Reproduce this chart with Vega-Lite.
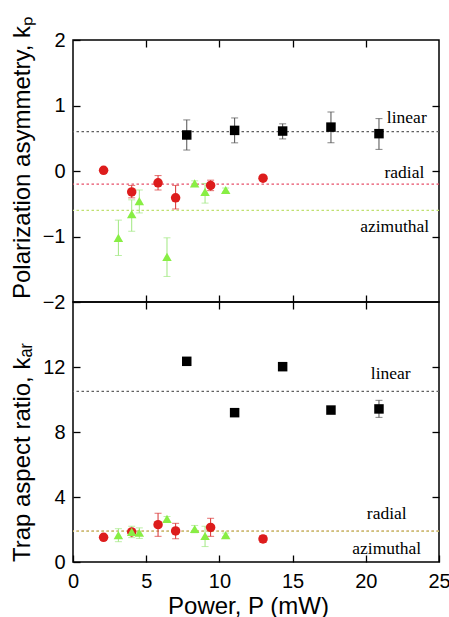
{
  "$schema": "https://vega.github.io/schema/vega-lite/v6.json",
  "background": "white",
  "padding": {"left": 9, "top": 14, "right": 5, "bottom": 0},
  "spacing": 0,
  "bounds": "flush",
  "config": {
    "view": {"stroke": "black", "strokeWidth": 1.5},
    "axis": {
      "domain": false, "grid": false, "tickColor": "black", "tickSize": -7, "tickWidth": 1.3, "minExtent": 0,
      "labelFont": "Liberation Sans", "labelFontSize": 20, "labelColor": "black", "labelFlush": false, "labelOverlap": false,
      "titleFont": "Liberation Sans", "titleFontSize": 24, "titleFontWeight": "normal", "titleColor": "black"
    }
  },
  "datasets": {
    "A": [
      {"series": "linear", "x": 7.77, "y": 0.55, "lo": 0.32, "hi": 0.78},
      {"series": "linear", "x": 11.04, "y": 0.62, "lo": 0.43, "hi": 0.81},
      {"series": "linear", "x": 14.32, "y": 0.61, "lo": 0.49, "hi": 0.72},
      {"series": "linear", "x": 17.62, "y": 0.67, "lo": 0.43, "hi": 0.90},
      {"series": "linear", "x": 20.9, "y": 0.57, "lo": 0.33, "hi": 0.80},
      {"series": "radial", "x": 2.09, "y": 0.01, "lo": 0.01, "hi": 0.01},
      {"series": "radial", "x": 4.01, "y": -0.32, "lo": -0.41, "hi": -0.22},
      {"series": "radial", "x": 5.81, "y": -0.18, "lo": -0.29, "hi": -0.07},
      {"series": "radial", "x": 7.01, "y": -0.41, "lo": -0.58, "hi": -0.22},
      {"series": "radial", "x": 9.4, "y": -0.22, "lo": -0.30, "hi": -0.14},
      {"series": "radial", "x": 12.98, "y": -0.11, "lo": -0.11, "hi": -0.11},
      {"series": "azimuthal", "x": 3.1, "y": -1.02, "lo": -1.29, "hi": -0.75},
      {"series": "azimuthal", "x": 4.01, "y": -0.66, "lo": -0.92, "hi": -0.44},
      {"series": "azimuthal", "x": 4.53, "y": -0.46, "lo": -0.64, "hi": -0.29},
      {"series": "azimuthal", "x": 6.42, "y": -1.31, "lo": -1.61, "hi": -1.02},
      {"series": "azimuthal", "x": 8.31, "y": -0.19, "lo": -0.23, "hi": -0.15},
      {"series": "azimuthal", "x": 9.02, "y": -0.32, "lo": -0.49, "hi": -0.19},
      {"series": "azimuthal", "x": 10.43, "y": -0.29, "lo": -0.32, "hi": -0.26}
    ],
    "B": [
      {"series": "linear", "x": 7.77, "y": 12.35, "lo": 12.15, "hi": 12.55},
      {"series": "linear", "x": 11.04, "y": 9.19, "lo": 9.0, "hi": 9.38},
      {"series": "linear", "x": 14.32, "y": 12.02, "lo": 11.9, "hi": 12.12},
      {"series": "linear", "x": 17.62, "y": 9.35, "lo": 9.15, "hi": 9.55},
      {"series": "linear", "x": 20.9, "y": 9.42, "lo": 8.9, "hi": 9.95},
      {"series": "radial", "x": 2.09, "y": 1.52, "lo": 1.45, "hi": 1.6},
      {"series": "radial", "x": 4.01, "y": 1.85, "lo": 1.75, "hi": 1.95},
      {"series": "radial", "x": 5.81, "y": 2.3, "lo": 1.58, "hi": 3.0},
      {"series": "radial", "x": 7.01, "y": 1.91, "lo": 1.43, "hi": 2.38},
      {"series": "radial", "x": 9.4, "y": 2.13, "lo": 1.58, "hi": 2.69},
      {"series": "radial", "x": 12.98, "y": 1.42, "lo": 1.2, "hi": 1.62},
      {"series": "azimuthal", "x": 3.1, "y": 1.66, "lo": 1.25, "hi": 2.05},
      {"series": "azimuthal", "x": 4.01, "y": 1.85, "lo": 1.5, "hi": 2.2},
      {"series": "azimuthal", "x": 4.53, "y": 1.8, "lo": 1.45, "hi": 2.1},
      {"series": "azimuthal", "x": 6.42, "y": 2.65, "lo": 2.5, "hi": 2.8},
      {"series": "azimuthal", "x": 8.31, "y": 2.03, "lo": 1.8, "hi": 2.25},
      {"series": "azimuthal", "x": 9.02, "y": 1.6, "lo": 0.95, "hi": 2.2},
      {"series": "azimuthal", "x": 10.43, "y": 1.66, "lo": 1.55, "hi": 1.78}
    ],
    "refA": [
      {"series": "linear", "y": 0.6},
      {"series": "radial", "y": -0.2},
      {"series": "azimuthal", "y": -0.6}
    ],
    "refB": [
      {"series": "linear", "y": 10.5},
      {"series": "radial", "y": 1.9},
      {"series": "azimuthal", "y": 1.9}
    ],
    "labA": [
      {"text": "linear", "x": 22.8, "y": 0.81},
      {"text": "radial", "x": 22.64, "y": -0.03},
      {"text": "azimuthal", "x": 21.97, "y": -0.855}
    ],
    "labB": [
      {"text": "linear", "x": 21.7, "y": 11.59},
      {"text": "radial", "x": 21.43, "y": 2.97},
      {"text": "azimuthal", "x": 21.43, "y": 0.78}
    ]
  },
  "vconcat": [
    {
      "width": 366,
      "height": 262,
      "resolve": {"axis": {"x": "independent", "y": "independent"}},
      "layer": [
        {
          "data": {"name": "refA"},
          "mark": {"type": "rule", "strokeDash": [2.5, 2.5], "strokeWidth": 1.2},
          "encoding": {
            "y": {"field": "y", "type": "quantitative", "scale": {"domain": [-2, 2], "nice": false, "zero": false}, "axis": null},
            "stroke": {"field": "series", "type": "nominal", "scale": {"domain": ["linear", "radial", "azimuthal"], "range": ["#606060", "#e8506a", "#c0e070"]}, "legend": null}
          }
        },
        {
          "data": {"name": "A"},
          "mark": {"type": "errorbar", "ticks": {"size": 7, "thickness": 1}, "rule": {"strokeWidth": 1}},
          "encoding": {
            "x": {"field": "x", "type": "quantitative", "scale": {"domain": [0, 25], "nice": false, "zero": false}, "axis": null},
            "y": {"field": "lo", "type": "quantitative", "scale": {"domain": [-2, 2], "nice": false, "zero": false}, "axis": null},
            "y2": {"field": "hi"},
            "color": {"field": "series", "type": "nominal", "scale": {"domain": ["linear", "radial", "azimuthal"], "range": ["#505050", "#d83030", "#a0e880"]}, "legend": null}
          }
        },
        {
          "data": {"name": "A"},
          "mark": {"type": "point", "filled": true, "opacity": 1, "size": 90},
          "encoding": {
            "x": {"field": "x", "type": "quantitative", "scale": {"domain": [0, 25], "nice": false, "zero": false},
                  "axis": {"orient": "bottom", "values": [5, 10, 15, 20], "labels": false, "title": null}},
            "y": {"field": "y", "type": "quantitative", "scale": {"domain": [-2, 2], "nice": false, "zero": false},
                  "axis": {"orient": "left", "values": [-2, -1, 0, 1, 2], "title": "Polarization asymmetry, kₚ", "labelPadding": 15, "titlePadding": 8, "titleY": 117}},
            "fill": {"field": "series", "type": "nominal", "scale": {"domain": ["linear", "radial", "azimuthal"], "range": ["#000000", "#dd1c1c", "#88ee44"]}, "legend": null},
            "shape": {"field": "series", "type": "nominal", "scale": {"domain": ["linear", "radial", "azimuthal"], "range": ["square", "circle", "triangle-up"]}, "legend": null}
          }
        },
        {
          "data": {"name": "labA"},
          "mark": {"type": "text", "font": "Liberation Serif", "fontSize": 17.5, "color": "black", "align": "center", "baseline": "middle"},
          "encoding": {
            "x": {"field": "x", "type": "quantitative", "scale": {"domain": [0, 25], "nice": false, "zero": false},
                  "axis": {"orient": "top", "values": [5, 10, 15, 20], "labels": false, "title": null}},
            "y": {"field": "y", "type": "quantitative", "scale": {"domain": [-2, 2], "nice": false, "zero": false},
                  "axis": {"orient": "right", "values": [-1, 0, 1], "labels": false, "title": null}},
            "text": {"field": "text"}
          }
        },
        {
          "mark": {"type": "text", "text": "(a)", "font": "Liberation Serif", "fontSize": 26, "color": "black", "align": "center", "baseline": "middle"},
          "encoding": {
            "x": {"datum": 2.23, "type": "quantitative", "axis": null},
            "y": {"datum": 1.5, "type": "quantitative", "axis": null}
          }
        }
      ]
    },
    {
      "width": 366,
      "height": 260,
      "resolve": {"axis": {"x": "independent", "y": "independent"}},
      "layer": [
        {
          "data": {"name": "refB"},
          "mark": {"type": "rule", "strokeDash": [2.5, 2.5], "strokeWidth": 1.2},
          "encoding": {
            "y": {"field": "y", "type": "quantitative", "scale": {"domain": [0, 16], "nice": false, "zero": false}, "axis": null},
            "stroke": {"field": "series", "type": "nominal", "scale": {"domain": ["linear", "radial", "azimuthal"], "range": ["#606060", "#e8506a", "#b8d860"]}, "legend": null}
          }
        },
        {
          "data": {"name": "B"},
          "mark": {"type": "errorbar", "ticks": {"size": 7, "thickness": 1}, "rule": {"strokeWidth": 1}},
          "encoding": {
            "x": {"field": "x", "type": "quantitative", "scale": {"domain": [0, 25], "nice": false, "zero": false}, "axis": null},
            "y": {"field": "lo", "type": "quantitative", "scale": {"domain": [0, 16], "nice": false, "zero": false}, "axis": null},
            "y2": {"field": "hi"},
            "color": {"field": "series", "type": "nominal", "scale": {"domain": ["linear", "radial", "azimuthal"], "range": ["#505050", "#d83030", "#a0e880"]}, "legend": null}
          }
        },
        {
          "data": {"name": "B"},
          "mark": {"type": "point", "filled": true, "opacity": 1, "size": 90},
          "encoding": {
            "x": {"field": "x", "type": "quantitative", "scale": {"domain": [0, 25], "nice": false, "zero": false},
                  "axis": {"orient": "bottom", "values": [0, 5, 10, 15, 20, 25], "title": "Power, P (mW)", "labelPadding": 16, "titlePadding": 3, "titleX": 175}},
            "y": {"field": "y", "type": "quantitative", "scale": {"domain": [0, 16], "nice": false, "zero": false},
                  "axis": {"orient": "left", "values": [0, 4, 8, 12], "title": "Trap aspect ratio, kₐᵣ", "labelPadding": 15, "titlePadding": 8, "titleY": 150}},
            "fill": {"field": "series", "type": "nominal", "scale": {"domain": ["linear", "radial", "azimuthal"], "range": ["#000000", "#dd1c1c", "#88ee44"]}, "legend": null},
            "shape": {"field": "series", "type": "nominal", "scale": {"domain": ["linear", "radial", "azimuthal"], "range": ["square", "circle", "triangle-up"]}, "legend": null}
          }
        },
        {
          "data": {"name": "labB"},
          "mark": {"type": "text", "font": "Liberation Serif", "fontSize": 17.5, "color": "black", "align": "center", "baseline": "middle"},
          "encoding": {
            "x": {"field": "x", "type": "quantitative", "scale": {"domain": [0, 25], "nice": false, "zero": false},
                  "axis": {"orient": "top", "values": [5, 10, 15, 20], "labels": false, "title": null}},
            "y": {"field": "y", "type": "quantitative", "scale": {"domain": [0, 16], "nice": false, "zero": false},
                  "axis": {"orient": "right", "values": [4, 8, 12], "labels": false, "title": null}},
            "text": {"field": "text"}
          }
        },
        {
          "mark": {"type": "text", "text": "(b)", "font": "Liberation Serif", "fontSize": 26, "color": "black", "align": "center", "baseline": "middle"},
          "encoding": {
            "x": {"datum": 2.39, "type": "quantitative", "axis": null},
            "y": {"datum": 13.85, "type": "quantitative", "axis": null}
          }
        }
      ]
    }
  ]
}
